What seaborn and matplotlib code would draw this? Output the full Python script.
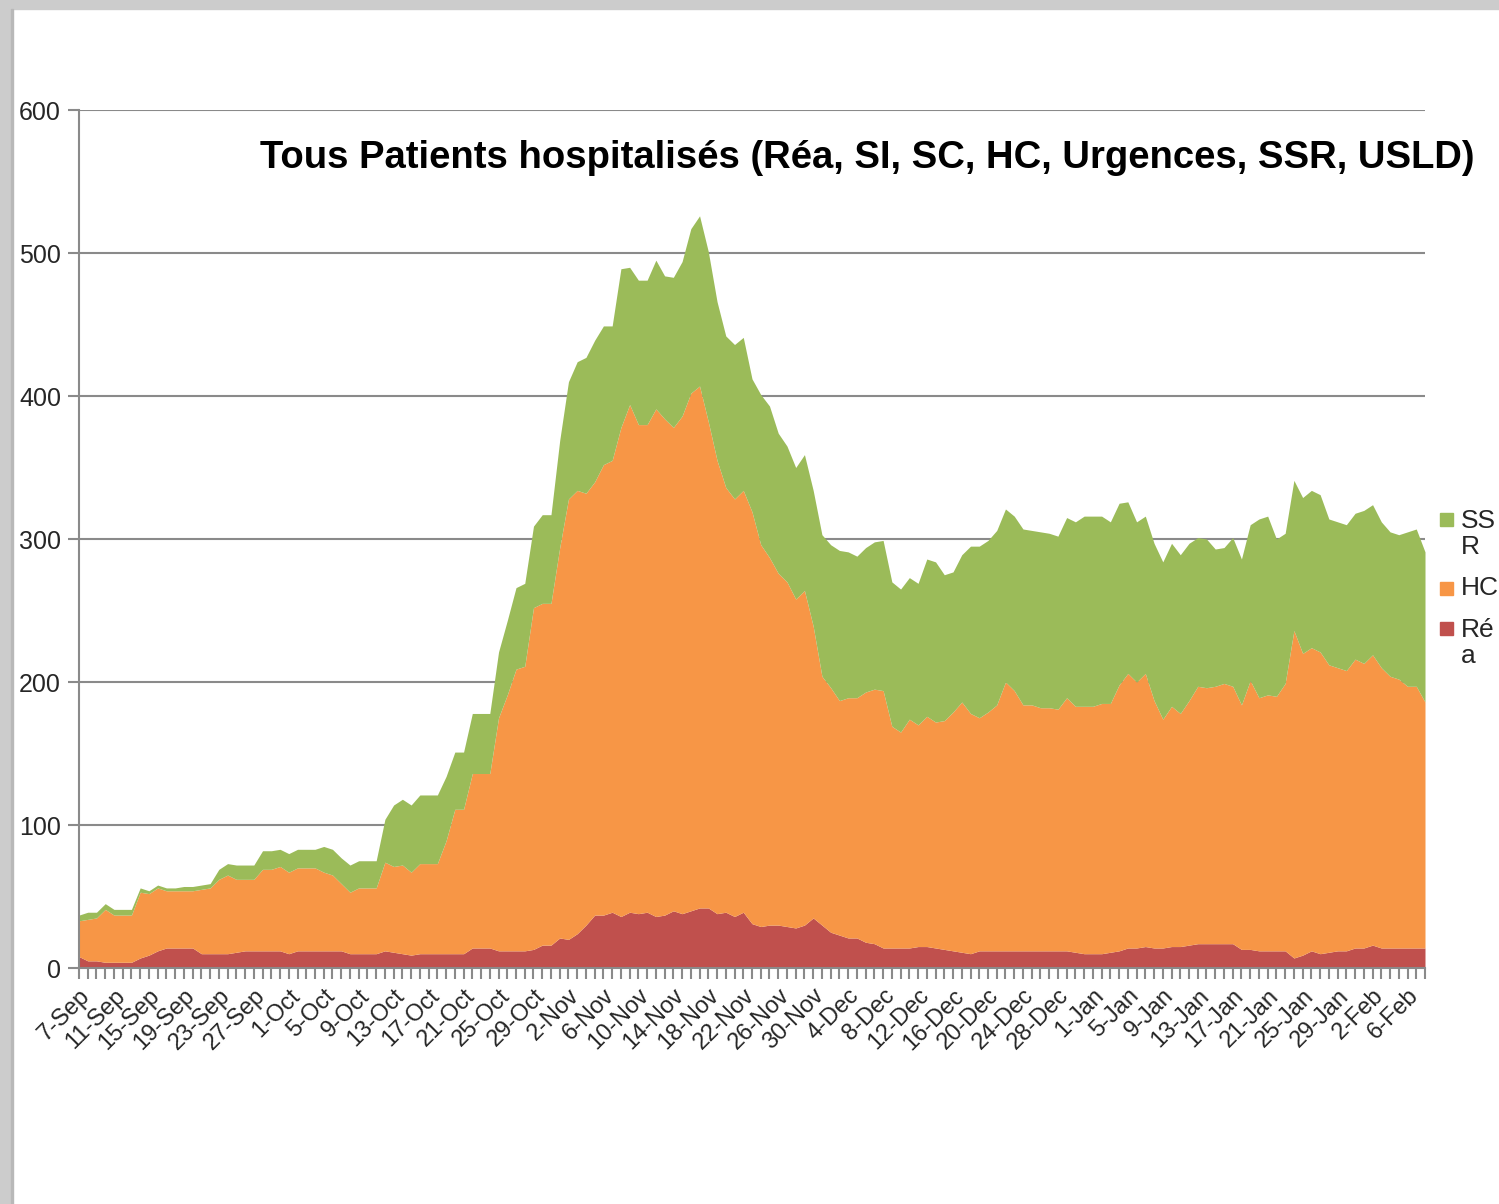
import numpy as np
import pandas as pd
import seaborn as sns
import matplotlib.pyplot as plt
from matplotlib.patches import Rectangle

# daily values, 7 Sep -> 8 Feb
dates = pd.date_range("2020-09-07", periods=155, freq="D")

rea = [8, 5, 5, 4, 4, 4, 4, 7, 9, 12,
       14, 14, 14, 14, 10, 10, 10, 10, 11, 12,
       12, 12, 12, 12, 10, 12, 12, 12, 12, 12,
       12, 10, 10, 10, 10, 12, 11, 10, 9, 10,
       10, 10, 10, 10, 10, 14, 14, 14, 12, 12,
       12, 12, 13, 16, 16, 21, 20, 24, 30, 37,
       37, 39, 36, 39, 38, 39, 36, 37, 40, 38,
       40, 42, 42, 38, 39, 36, 39, 31, 29, 30,
       30, 29, 28, 30, 35, 30, 25, 23, 21, 21,
       18, 17, 14, 14, 14, 14, 15, 15, 14, 13,
       12, 11, 10, 12, 12, 12, 12, 12, 12, 12,
       12, 12, 12, 12, 11, 10, 10, 10, 11, 12,
       14, 14, 15, 14, 14, 15, 15, 16, 17, 17,
       17, 17, 17, 13, 13, 12, 12, 12, 12, 7,
       9, 12, 10, 11, 12, 12, 14, 14, 16, 14,
       14, 14, 14, 14, 14]

hc = [25, 29, 30, 37, 33, 33, 33, 46, 43, 44,
      40, 40, 40, 40, 45, 46, 52, 55, 51, 50,
      50, 57, 57, 59, 57, 58, 58, 58, 55, 53,
      47, 43, 46, 46, 46, 62, 60, 62, 58, 63,
      63, 63, 79, 101, 101, 122, 122, 122, 163, 179,
      197, 199, 239, 239, 239, 273, 308, 310, 302, 303,
      315, 316, 342, 355, 342, 341, 355, 347, 338, 348,
      362, 365, 340, 317, 297, 292, 295, 288, 267, 257,
      246, 241, 230, 234, 204, 174, 171, 164, 168, 168,
      175, 178, 180, 155, 151, 160, 155, 161, 158, 160,
      167, 175, 168, 163, 167, 172, 188, 182, 172, 172,
      170, 170, 169, 177, 172, 173, 173, 175, 174, 186,
      192, 186, 191, 173, 160, 168, 163, 171, 180, 179,
      180, 182, 180, 171, 188, 177, 179, 178, 187, 229,
      211, 212, 211, 201, 198, 196, 202, 199, 203, 196,
      190, 188, 183, 183, 172]

ssr = [4, 5, 4, 4, 4, 4, 4, 3, 2, 2,
       2, 2, 3, 3, 3, 3, 7, 8, 10, 10,
       10, 13, 13, 12, 13, 13, 13, 13, 18, 18,
       18, 19, 19, 19, 19, 30, 43, 46, 47, 48,
       48, 48, 45, 40, 40, 42, 42, 42, 46, 52,
       57, 58, 57, 62, 62, 75, 82, 90, 95, 99,
       97, 94, 111, 96, 101, 101, 104, 100, 105, 108,
       115, 119, 119, 111, 106, 108, 107, 93, 105, 106,
       98, 95, 92, 95, 95, 99, 100, 105, 102, 99,
       101, 103, 105, 101, 100, 99, 99, 110, 112, 102,
       98, 103, 117, 120, 120, 122, 121, 122, 123, 122,
       123, 122, 121, 126, 129, 133, 133, 131, 127, 127,
       120, 112, 110, 110, 110, 114, 111, 110, 104, 104,
       96, 95, 104, 102, 109, 125, 125, 110, 105, 105,
       109, 110, 110, 102, 102, 102, 102, 107, 105, 102,
       101, 101, 108, 110, 105]

series_names = ["Réa", "HC", "SSR"]
legend_labels = ["SS\nR", "HC", "Ré\na"]
title = "Tous Patients hospitalisés (Réa, SI, SC, HC, Urgences, SSR, USLD)"

sns.set_theme(style="white")
plt.rcParams['font.family'] = ['Liberation Sans', 'DejaVu Sans']

red, orange, green = "#C0504D", "#F79646", "#9BBB59"
grey = "#8a8a8a"

W, H = 1499, 1204
fig = plt.figure(figsize=(W / 100, H / 100), dpi=100)
fig.patch.set_facecolor("white")

# grey window border (top and left)
fig.patches.append(Rectangle((0, 1 - 9 / H), 1, 9 / H, transform=fig.transFigure,
                             color="#cccccc", zorder=0))
fig.patches.append(Rectangle((0, 0), 11 / W, 1, transform=fig.transFigure,
                             color="#cccccc", zorder=0))
fig.patches.append(Rectangle((11 / W, 0), 1.5 / W, 1 - 9 / H, transform=fig.transFigure,
                             color="#b8b8b8", zorder=0))

ax = fig.add_axes([79 / W, 1 - 968 / H, (1425 - 79) / W, (968 - 110) / H])
x = np.arange(len(dates))
ax.stackplot(x, rea, hc, ssr, colors=[red, orange, green], linewidth=0, zorder=2)

ax.set_xlim(0, len(dates) - 1)
ax.set_ylim(0, 600)
ax.set_yticks(range(0, 601, 100))
ax.yaxis.grid(True, color=grey, linewidth=1.5)
ax.set_axisbelow(True)

tick_pos = x[::4]
tick_lab = [f"{d.day}-{d.strftime('%b')}" for d in dates[::4]]
ax.set_xticks(tick_pos)
ax.set_xticklabels(tick_lab, rotation=45, ha="right", rotation_mode="anchor")
ax.set_xticks(x, minor=True)
ax.tick_params(axis="x", which="both", length=8, width=1.5, color=grey,
               direction="out", bottom=True)
ax.tick_params(axis="x", which="major", labelsize=17, pad=4)
ax.tick_params(axis="y", length=8, width=1.5, color=grey, direction="out",
               left=True, labelsize=18, pad=5)

for side in ["top", "right"]:
    ax.spines[side].set_visible(False)
for side in ["left", "bottom"]:
    ax.spines[side].set_color(grey)
    ax.spines[side].set_linewidth(1.5)

fig.text(1475 / W, 1 - 158 / H, title, ha="right", va="center",
         fontsize=27.5, fontweight="bold", color="black")

# legend, drawn at the right margin
for lab, col, ysq, ytxt in zip(legend_labels, [green, orange, red],
                               [519, 588, 628], [534, 588, 643]):
    fig.patches.append(Rectangle((1440 / W, 1 - (ysq + 7) / H), 13 / W, 13 / H,
                                 transform=fig.transFigure, color=col))
    fig.text(1461 / W, 1 - ytxt / H, lab, ha="left", va="center",
             fontsize=19, linespacing=1.15)

plt.savefig("out.png", dpi=100)
